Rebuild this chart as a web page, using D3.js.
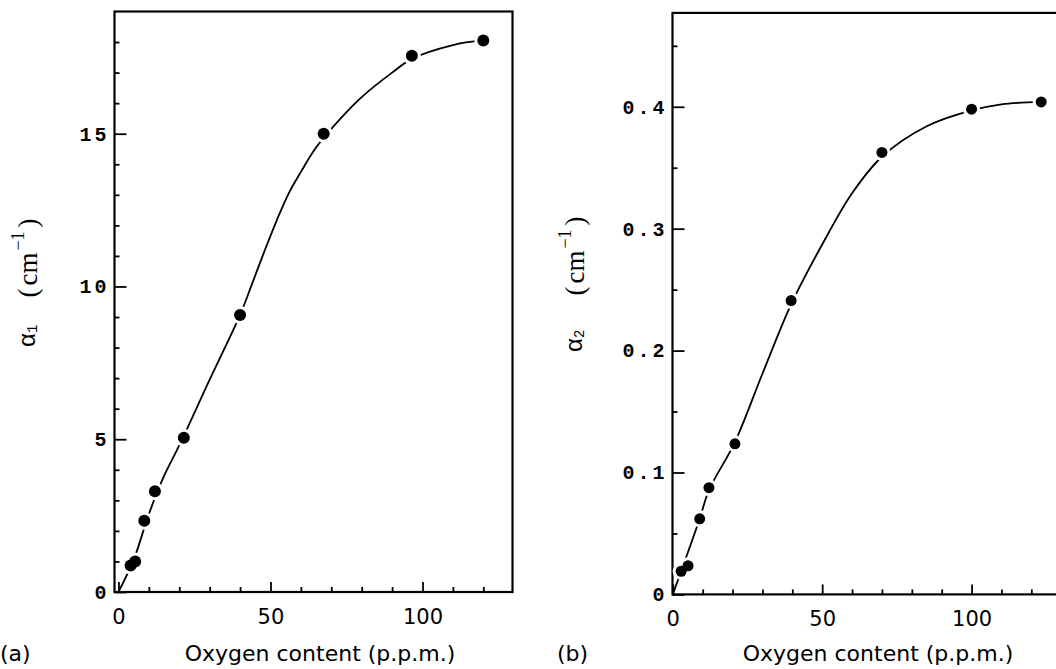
<!DOCTYPE html>
<html>
<head>
<meta charset="utf-8">
<script src="https://cdn.jsdelivr.net/npm/d3@7"></script>
<style>
  body { margin: 0; background: #fff; }
  svg { display: block; }
</style>
</head>
<body>
<script>
const w = 1056;
const h = 669;

// panel (a): alpha1 vs oxygen content
const oxygenA = [4, 5.5, 8.5, 12, 21.5, 40, 67.5, 96.5, 120];
const alpha1 = [0.87, 1.0, 2.33, 3.3, 5.05, 9.07, 15.0, 17.55, 18.05];
// fitted curve as drawn in (a)
const curveAx = [0, 5, 10, 15, 20, 30, 40, 44, 48, 52, 56, 60, 65, 74, 80, 90, 96.5, 110, 120];
const curveAy = [0, 1.05, 2.55, 3.8, 4.8, 6.95, 9.07, 10.1, 11.15, 12.15, 13.05, 13.75, 14.55, 15.6, 16.2, 17.0, 17.45, 17.9, 18.06];

// panel (b): alpha2 vs oxygen content
const oxygenB = [2.8, 5.1, 9, 12.1, 20.8, 39.6, 70, 100, 123.3];
const alpha2 = [0.019, 0.0235, 0.062, 0.0875, 0.1235, 0.241, 0.3625, 0.398, 0.404];
const curveBx = [0, 9, 12, 20.8, 30, 39.6, 50, 60, 70, 85, 100, 110, 123];
const curveBy = [0, 0.062, 0.085, 0.125, 0.181, 0.238, 0.287, 0.329, 0.359, 0.384, 0.397, 0.402, 0.404];

// tick values
const xMajor = [0, 50, 100];
const xMinor = [10, 20, 30, 40, 60, 70, 80, 90, 110, 120];
const yMajorA = [0, 5, 10, 15];
const yMinorA = d3.range(1, 19).filter(v => v % 5 !== 0);
const yMajorB = [0, 0.1, 0.2, 0.3, 0.4];
const yMinorB = [0.05, 0.15, 0.25, 0.35, 0.45];

const svg = d3.select("body")
  .append("svg")
  .attr("width", w)
  .attr("height", h);

function drawPanel(p) {
  const x = d3.scaleLinear().domain(p.xDomain).range(p.xRange);
  const y = d3.scaleLinear().domain(p.yDomain).range(p.yRange);
  const g = svg.append("g");

  // minor ticks
  g.append("g")
    .attr("transform", "translate(0," + p.yRange[0] + ")")
    .call(d3.axisBottom(x).tickValues(xMinor).tickSize(-5).tickFormat(""));
  g.append("g")
    .attr("transform", "translate(" + p.xRange[0] + ",0)")
    .call(d3.axisLeft(y).tickValues(p.yMinor).tickSize(-5).tickFormat(""));

  // major ticks with labels
  const xAxis = g.append("g")
    .attr("transform", "translate(0," + p.yRange[0] + ")")
    .call(d3.axisBottom(x).tickValues(xMajor).tickSize(-10).tickPadding(17));
  xAxis.selectAll("text")
    .style("font-family", "'DejaVu Sans', sans-serif")
    .style("font-size", "21px")
    .attr("fill", "#000");

  const yAxis = g.append("g")
    .attr("transform", "translate(" + p.xRange[0] + ",0)")
    .call(d3.axisLeft(y).tickValues(p.yMajor).tickSize(-12).tickPadding(5).tickFormat(p.yFormat));
  yAxis.selectAll("text")
    .style("font-family", "'Liberation Mono', monospace")
    .style("font-size", "20px")
    .style("font-weight", "bold")
    .style("letter-spacing", "3px")
    .attr("fill", "#000");

  g.selectAll(".domain").remove();
  g.selectAll(".tick line").attr("stroke", "#000").attr("stroke-width", 1.8);

  // frame
  g.append("rect")
    .attr("x", p.xRange[0])
    .attr("y", p.yRange[1])
    .attr("width", p.xRange[1] - p.xRange[0])
    .attr("height", p.yRange[0] - p.yRange[1])
    .attr("fill", "none")
    .attr("stroke", "#000")
    .attr("stroke-width", 2.2);

  // fitted curve
  const line = d3.line()
    .x(d => x(d[0]))
    .y(d => y(d[1]))
    .curve(d3.curveCatmullRom.alpha(0.5));
  g.append("path")
    .datum(d3.zip(p.cx, p.cy))
    .attr("d", line)
    .attr("fill", "none")
    .attr("stroke", "#000")
    .attr("stroke-width", 1.8);

  // data points, a white halo breaks the curve around each dot
  const pts = d3.zip(p.px, p.py);
  g.selectAll("circle.halo")
    .data(pts)
    .enter()
    .append("circle")
    .attr("class", "halo")
    .attr("cx", d => x(d[0]))
    .attr("cy", d => y(d[1]))
    .attr("r", p.r + 3)
    .attr("fill", "#fff");
  g.selectAll("circle.pt")
    .data(pts)
    .enter()
    .append("circle")
    .attr("class", "pt")
    .attr("cx", d => x(d[0]))
    .attr("cy", d => y(d[1]))
    .attr("r", p.r)
    .attr("fill", "#000");

  // x axis title and panel letter
  g.append("text")
    .attr("x", p.titleX)
    .attr("y", 661)
    .attr("text-anchor", "middle")
    .style("font-family", "'DejaVu Sans', sans-serif")
    .style("font-size", "22px")
    .text("Oxygen content (p.p.m.)");
  g.append("text")
    .attr("x", p.letterX)
    .attr("y", 661)
    .style("font-family", "'DejaVu Sans', sans-serif")
    .style("font-size", "22px")
    .text(p.letter);

  // y axis title, rotated: alpha with subscript, then units
  const ya = g.append("text")
    .attr("transform", "translate(" + p.yTitleX + "," + p.alphaY + ") rotate(-90)")
    .attr("text-anchor", "middle")
    .attr("dominant-baseline", "central")
    .style("font-family", "'Liberation Mono', monospace")
    .style("font-size", "24px");
  ya.append("tspan").text("α");
  ya.append("tspan").attr("font-size", "14px").attr("dy", 5).text(p.sub);

  const yu = g.append("text")
    .attr("transform", "translate(" + p.yTitleX + "," + p.unitY + ") rotate(-90)")
    .attr("text-anchor", "middle")
    .attr("dominant-baseline", "central")
    .style("font-family", "'Liberation Serif', serif")
    .style("font-size", "27px");
  yu.append("tspan").text("(");
  yu.append("tspan").attr("dx", 3).text("cm");
  yu.append("tspan").attr("font-size", "18px").attr("dx", 2).attr("dy", -10).text("−1");
  yu.append("tspan").attr("dx", 4).attr("dy", 10).text(")");
}

drawPanel({
  xDomain: [-1.3, 129.6], xRange: [114.5, 512.5],
  yDomain: [0, 19], yRange: [592, 11.5],
  yMajor: yMajorA, yMinor: yMinorA, yFormat: d3.format("d"),
  px: oxygenA, py: alpha1, cx: curveAx, cy: curveAy, r: 6,
  titleX: 320, letterX: 0, letter: "(a)",
  yTitleX: 28, alphaY: 336, unitY: 258, sub: "1"
});

drawPanel({
  xDomain: [-0.1, 130], xRange: [672.5, 1061.2],
  yDomain: [0, 0.477], yRange: [594.4, 12.9],
  yMajor: yMajorB, yMinor: yMinorB, yFormat: d => d === 0 ? "0" : d3.format(".1f")(d),
  px: oxygenB, py: alpha2, cx: curveBx, cy: curveBy, r: 5.5,
  titleX: 878, letterX: 557, letter: "(b)",
  yTitleX: 575, alphaY: 341, unitY: 256, sub: "2"
});
</script>
</body>
</html>
